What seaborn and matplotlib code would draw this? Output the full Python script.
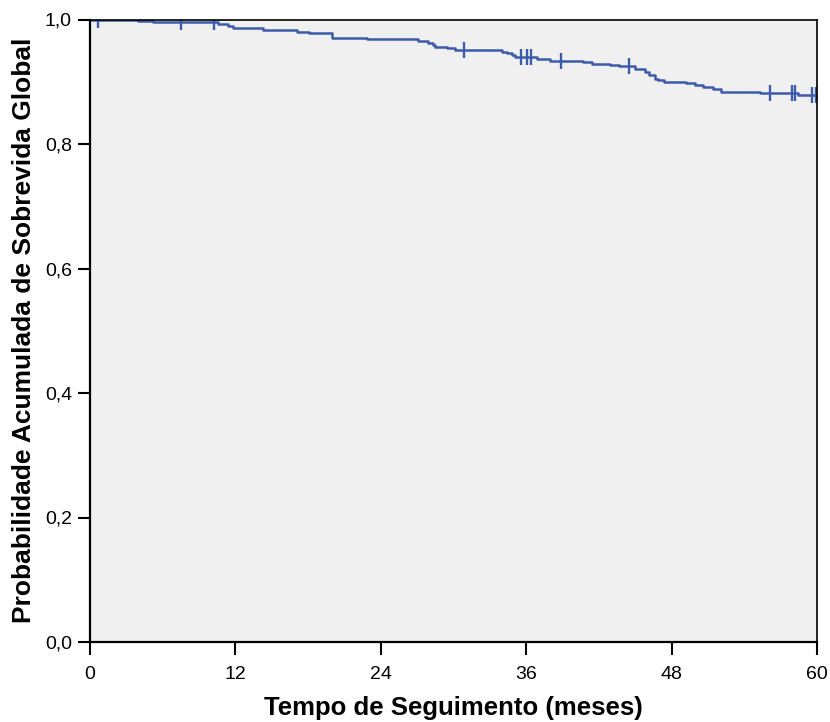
import numpy as np
import pandas as pd
import matplotlib
matplotlib.use("Agg")
import matplotlib.pyplot as plt
import seaborn as sns
from matplotlib.ticker import FuncFormatter

# --- data (Kaplan-Meier estimate) ---
event_times = [0, 4.0, 5.2, 10.6, 11.4, 11.8, 14.3, 17.1, 18.1, 20.0, 22.9,
               27.1, 27.9, 28.3, 28.5, 29.5, 30.1, 34.0, 34.4, 34.8, 35.1,
               36.9, 38.0, 40.7, 41.4, 42.9, 43.7, 45.0, 45.8, 46.1, 46.6,
               46.9, 47.4, 49.2, 49.9, 50.6, 51.4, 52.1, 55.3, 58.4, 60.0]
survival = [1.0, 0.9976, 0.9955, 0.993, 0.989, 0.987, 0.983, 0.980, 0.978,
            0.971, 0.969, 0.966, 0.962, 0.959, 0.956, 0.954, 0.951, 0.948,
            0.946, 0.943, 0.940, 0.937, 0.934, 0.932, 0.929, 0.927, 0.925,
            0.920, 0.915, 0.911, 0.905, 0.903, 0.900, 0.898, 0.895, 0.892,
            0.888, 0.884, 0.882, 0.879, 0.879]
censor_times = [0.7, 7.5, 10.2, 30.9, 35.6, 36.1, 36.4, 38.9, 44.5,
                56.1, 57.9, 58.2, 59.6, 59.9]
x_ticks = [0, 12, 24, 36, 48, 60]
y_ticks = [0.0, 0.2, 0.4, 0.6, 0.8, 1.0]
x_label = "Tempo de Seguimento (meses)"
y_label = "Probabilidade Acumulada de Sobrevida Global"

# survival level at each censoring time (lookup in the step function)
idx = np.searchsorted(event_times, censor_times, side="right") - 1
censor_surv = [survival[i] for i in idx]

km = pd.DataFrame({"t": event_times, "s": survival})
cens = pd.DataFrame({"t": censor_times, "s": censor_surv})

sns.set_style("white")
plt.rcParams["font.family"] = ["Liberation Sans", "DejaVu Sans"]
plt.rcParams["text.color"] = "black"
plt.rcParams["axes.labelcolor"] = "black"

color = "#3d5bab"
fig = plt.figure(figsize=(8.3, 7.22), dpi=100)
ax = fig.add_axes([90/830, 80/722, (817-90)/830, (642-19.5)/722])
ax.set_facecolor("#f0f0f0")

sns.lineplot(data=km, x="t", y="s", ax=ax, color=color, linewidth=1.8,
             drawstyle="steps-post", estimator=None, sort=False)
ax.plot(cens["t"], cens["s"], linestyle="none", marker="|", markersize=11,
        markeredgewidth=1.7, color=color)

ax.set_xlim(0, 60)
ax.set_ylim(0, 1.0)
ax.set_xticks(x_ticks)
ax.set_yticks(y_ticks)
ax.yaxis.set_major_formatter(FuncFormatter(lambda v, p: f"{v:.1f}".replace(".", ",")))
ax.tick_params(axis="both", which="major", direction="out", length=9, width=1.5,
               labelsize=14, colors="black", labelcolor="black", pad=4,
               bottom=True, left=True, top=False, right=False)
ax.tick_params(axis="x", pad=8)

for side in ["left", "bottom"]:
    ax.spines[side].set_linewidth(1.6)
    ax.spines[side].set_color("black")
for side in ["top", "right"]:
    ax.spines[side].set_linewidth(1.2)
    ax.spines[side].set_color("black")
    ax.spines[side].set_visible(True)

ax.set_xlabel(x_label, fontsize=18.5, fontweight="bold", labelpad=10)
ax.set_ylabel(y_label, fontsize=19, fontweight="bold", labelpad=6)

fig.savefig("out.png", dpi=100)
